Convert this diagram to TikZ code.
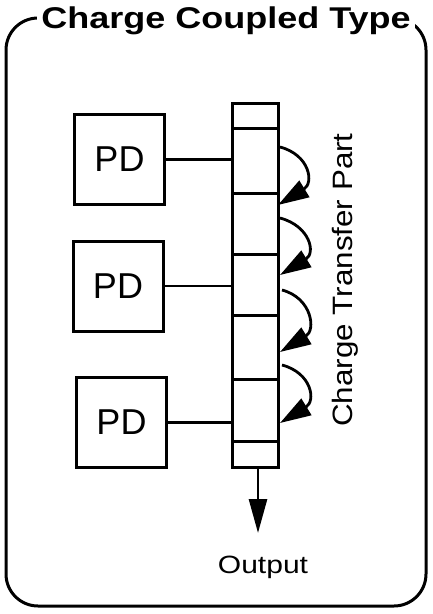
\documentclass[tikz,border=0pt]{standalone}
\usepackage{fontspec}
\setmainfont{Liberation Sans}
\usepackage{graphicx}
\usetikzlibrary{arrows.meta}
\begin{document}
\begin{tikzpicture}[x=1pt,y=-1pt,line width=3pt,
  pdbox/.style={draw,minimum width=90pt,minimum height=90pt,inner sep=0pt,font=\fontsize{36}{40}\selectfont},
  cell/.style={draw,minimum width=46pt,inner sep=0pt},
  link/.style={line width=2.8pt},
  hop/.style={line width=2.8pt,-{Triangle[length=31pt,width=19pt]}},
  outarrow/.style={line width=2.8pt,-{Triangle[length=34pt,width=18pt]}}]
\useasboundingbox (0,0) rectangle (433,614);
% frame
\draw[rounded corners=32pt] (6,18) rectangle (426,606);
\node[fill=white,inner xsep=4pt,inner ysep=3pt,anchor=base,font=\bfseries\fontsize{30}{34}\selectfont] (title) at (226,28) {\scalebox{1.2}[1]{Charge Coupled Type}};
% PD boxes
\node[pdbox] (pd1) at (119.5,159.5) {PD};
\node[pdbox] (pd2) at (118,286) {PD};
\node[pdbox] (pd3) at (121.5,422.5) {PD};
% transfer column
\node[cell,minimum height=25pt] (c0) at (255,115.5) {};
\node[cell,minimum height=65pt] (c1) at (255,160.5) {};
\node[cell,minimum height=61pt] (c2) at (255,223.5) {};
\node[cell,minimum height=61pt] (c3) at (255,284.5) {};
\node[cell,minimum height=64pt] (c4) at (255,347) {};
\node[cell,minimum height=62pt] (c5) at (255,410) {};
\node[cell,minimum height=26pt] (c6) at (255,454) {};
% links
\draw[link] (pd1.east) -- (pd1.east -| c1.west);
\draw[link] (pd2.east) -- (pd2.east -| c3.west);
\draw[link] (pd3.east) -- (pd3.east -| c5.west);
% hops
\coordinate (a1) at (280,147); \coordinate (b1) at (278,205);
\coordinate (a2) at (280,218); \coordinate (b2) at (280,275);
\coordinate (a3) at (282,290); \coordinate (b3) at (280,352);
\coordinate (a4) at (282,365); \coordinate (b4) at (280,423);
\draw[hop] (a1) .. controls +(30,8) and +(36,-22) .. (b1);
\draw[hop] (a2) .. controls +(30,8) and +(36,-22) .. (b2);
\draw[hop] (a3) .. controls +(30,8) and +(36,-22) .. (b3);
\draw[hop] (a4) .. controls +(30,8) and +(36,-22) .. (b4);
\node[rotate=90,anchor=base,inner sep=0pt,font=\fontsize{28}{32}\selectfont] (ctp) at (352,280) {\scalebox{1.12}[1]{Charge Transfer Part}};
% output
\coordinate (otip) at (258,533);
\draw[outarrow] (c6.south -| otip) -- (otip);
\node[anchor=base,inner sep=0pt,font=\fontsize{25}{28}\selectfont] (out) at (263,573) {\scalebox{1.2}[1]{Output}};
\end{tikzpicture}
\end{document}
